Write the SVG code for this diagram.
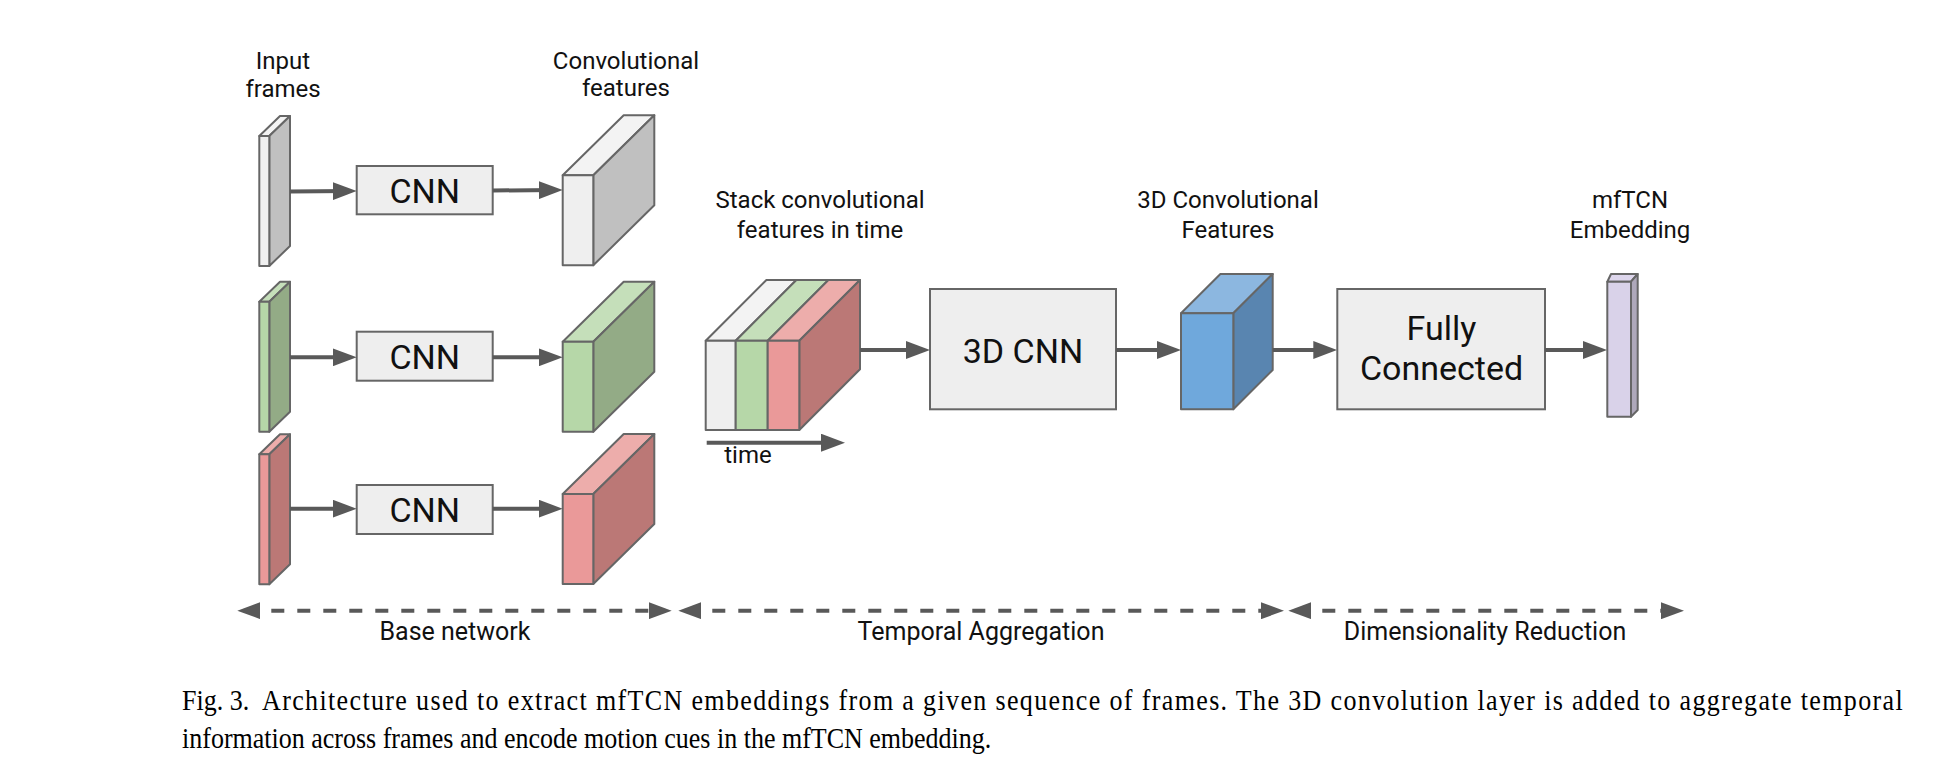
<svg xmlns="http://www.w3.org/2000/svg" width="1938" height="766" viewBox="0 0 1938 766">
<style>
.lbl{font-family:Roboto,"Liberation Sans",sans-serif;font-size:24px;fill:#111;text-anchor:middle}
.big{font-family:Roboto,"Liberation Sans",sans-serif;font-size:34px;fill:#111;text-anchor:middle}
.sec{font-family:Roboto,"Liberation Sans",sans-serif;font-size:25px;fill:#111;text-anchor:middle}
.cap{font-family:"Liberation Serif","Times New Roman",serif;font-size:29px;fill:#000}
.box{fill:#eeeeee;stroke:#666;stroke-width:2}
.edge{stroke:#666;stroke-width:2;stroke-linejoin:round}
.arr{stroke:#595959;stroke-width:4;fill:none;marker-end:url(#ah)}
.dash{stroke:#595959;stroke-width:4;fill:none;stroke-dasharray:13 13;marker-start:url(#ah2);marker-end:url(#ah2)}
.wF{fill:#efefef}.wT{fill:#f3f3f3}.wS{fill:#c0c0c0}
.gF{fill:#b6d7a8}.gT{fill:#c5dfba}.gS{fill:#93ab86}
.rF{fill:#ea9999}.rT{fill:#edadab}.rS{fill:#bb7876}
.bF{fill:#6fa8dc}.bT{fill:#8cb7e0}.bS{fill:#5985b0}
.pF{fill:#d9d2e9}.pT{fill:#ddd6ec}.pS{fill:#aea8ba}
</style>
<defs>
<marker id="ah" markerUnits="userSpaceOnUse" markerWidth="24" markerHeight="18" viewBox="0 0 24 18" refX="16" refY="9" orient="auto-start-reverse"><path d="M0,0 L24,9 L0,18 Z" fill="#595959"/></marker>
<marker id="ah2" markerUnits="userSpaceOnUse" markerWidth="23" markerHeight="17" viewBox="0 0 23 17" refX="15" refY="8.5" orient="auto-start-reverse"><path d="M0,0 L23,8.5 L0,17 Z" fill="#595959"/></marker>
</defs>

<!-- labels -->
<text class="lbl" x="283" y="69">Input</text>
<text class="lbl" x="283" y="96.5">frames</text>
<text class="lbl" x="626" y="68.5">Convolutional</text>
<text class="lbl" x="626" y="96">features</text>
<text class="lbl" x="820" y="208">Stack convolutional</text>
<text class="lbl" x="820" y="238">features in time</text>
<text class="lbl" x="1228" y="208">3D Convolutional</text>
<text class="lbl" x="1228" y="238">Features</text>
<text class="lbl" x="1630" y="208">mfTCN</text>
<text class="lbl" x="1630" y="238">Embedding</text>

<!-- input frames -->
<g id="frame1" class="edge">
<polygon class="wT" points="259.3,136 280,116 290,116 269.3,136"/>
<polygon class="wS" points="269.3,136 290,116 290,246 269.3,266"/>
<rect class="wF" x="259.3" y="136" width="10" height="130"/>
</g>
<g id="frame2" class="edge">
<polygon class="gT" points="259.3,301.7 280,281.7 290,281.7 269.3,301.7"/>
<polygon class="gS" points="269.3,301.7 290,281.7 290,411.7 269.3,431.7"/>
<rect class="gF" x="259.3" y="301.7" width="10" height="130"/>
</g>
<g id="frame3" class="edge">
<polygon class="rT" points="259.3,454.3 280,434.3 290,434.3 269.3,454.3"/>
<polygon class="rS" points="269.3,454.3 290,434.3 290,564.3 269.3,584.3"/>
<rect class="rF" x="259.3" y="454.3" width="10" height="130"/>
</g>

<!-- CNN boxes -->
<g id="cnn1"><rect class="box" x="356.7" y="166" width="136" height="48.3"/><text class="big" x="424.7" y="203.3">CNN</text></g>
<g id="cnn2"><rect class="box" x="356.7" y="331.7" width="136" height="49"/><text class="big" x="424.7" y="369.3">CNN</text></g>
<g id="cnn3"><rect class="box" x="356.7" y="485" width="136" height="49"/><text class="big" x="424.7" y="521.7">CNN</text></g>

<!-- conv features -->
<g id="conv1" class="edge">
<polygon class="wT" points="562.7,175.3 623.7,115.3 654.3,115.3 593.3,175.3"/>
<polygon class="wS" points="593.3,175.3 654.3,115.3 654.3,205.3 593.3,265.3"/>
<rect class="wF" x="562.7" y="175.3" width="30.6" height="90"/>
</g>
<g id="conv2" class="edge">
<polygon class="gT" points="562.7,341.7 623.7,281.7 654.3,281.7 593.3,341.7"/>
<polygon class="gS" points="593.3,341.7 654.3,281.7 654.3,371.7 593.3,431.7"/>
<rect class="gF" x="562.7" y="341.7" width="30.6" height="90"/>
</g>
<g id="conv3" class="edge">
<polygon class="rT" points="562.7,494 623.7,434 654.3,434 593.3,494"/>
<polygon class="rS" points="593.3,494 654.3,434 654.3,524 593.3,584"/>
<rect class="rF" x="562.7" y="494" width="30.6" height="90"/>
</g>

<!-- stack -->
<g id="stack" class="edge">
<polygon class="wT" points="705.7,340.7 766.4,280 796.4,280 735.7,340.7"/>
<polygon class="gT" points="735.7,340.7 796.4,280 828.4,280 767.7,340.7"/>
<polygon class="rT" points="767.7,340.7 828.4,280 860,280 799.3,340.7"/>
<polygon class="rS" points="799.3,340.7 860,280 860,369.3 799.3,430"/>
<rect class="wF" x="705.7" y="340.7" width="30" height="89.3"/>
<rect class="gF" x="735.7" y="340.7" width="32" height="89.3"/>
<rect class="rF" x="767.7" y="340.7" width="31.6" height="89.3"/>
</g>
<text class="lbl" x="748" y="463">time</text>

<g id="cnn3d"><rect class="box" x="930" y="289" width="186" height="120.3"/><text class="big" x="1023" y="362.5">3D CNN</text></g>

<g id="feat3d" class="edge">
<polygon class="bT" points="1181,313.3 1220.4,274 1272.7,274 1233.3,313.3"/>
<polygon class="bS" points="1233.3,313.3 1272.7,274 1272.7,370 1233.3,409.3"/>
<rect class="bF" x="1181" y="313.3" width="52.3" height="96"/>
</g>

<g id="fc"><rect class="box" x="1337.3" y="289" width="207.7" height="120.3"/><text class="big" x="1441.5" y="340">Fully</text><text class="big" x="1441.5" y="380">Connected</text></g>

<g id="embed" class="edge">
<polygon class="pT" points="1607.3,281.7 1611,274 1637.7,274 1631,281.7"/>
<polygon class="pS" points="1631,281.7 1637.7,274 1637.7,410 1631,416.7"/>
<rect class="pF" x="1607.3" y="281.7" width="23.7" height="135"/>
</g>

<!-- connectors -->
<g id="connectors">
<line class="arr" x1="290" y1="191.5" x2="348.7" y2="191"/>
<line class="arr" x1="492.7" y1="190.5" x2="554.7" y2="190"/>
<line class="arr" x1="290" y1="357.3" x2="348.7" y2="357.3"/>
<line class="arr" x1="492.7" y1="357.3" x2="554.7" y2="357.3"/>
<line class="arr" x1="290" y1="508.7" x2="348.7" y2="508.7"/>
<line class="arr" x1="492.7" y1="508.7" x2="554.7" y2="508.7"/>
<line class="arr" x1="706.7" y1="442.7" x2="837" y2="442.7"/>
<line class="arr" x1="860" y1="350" x2="922" y2="350"/>
<line class="arr" x1="1116" y1="350" x2="1173" y2="350"/>
<line class="arr" x1="1272.7" y1="350" x2="1329.3" y2="350"/>
<line class="arr" x1="1545" y1="350" x2="1599" y2="350"/>
<line class="dash" x1="245.3" y1="610.7" x2="663.7" y2="610.7"/>
<line class="dash" x1="686.3" y1="610.7" x2="1276" y2="610.7"/>
<line class="dash" x1="1296.3" y1="610.7" x2="1676" y2="610.7"/>
</g>

<text class="sec" x="455" y="640">Base network</text>
<text class="sec" x="981" y="640">Temporal Aggregation</text>
<text class="sec" x="1485" y="640">Dimensionality Reduction</text>

<g transform="translate(182,0) scale(0.897,1)">
<text class="cap" x="0" y="710">Fig. 3.</text>
<text class="cap" x="89.2" y="710" textLength="1829" lengthAdjust="spacing">Architecture used to extract mfTCN embeddings from a given sequence of frames. The 3D convolution layer is added to aggregate temporal</text>
<text class="cap" x="0" y="748">information across frames and encode motion cues in the mfTCN embedding.</text>
</g>
</svg>
